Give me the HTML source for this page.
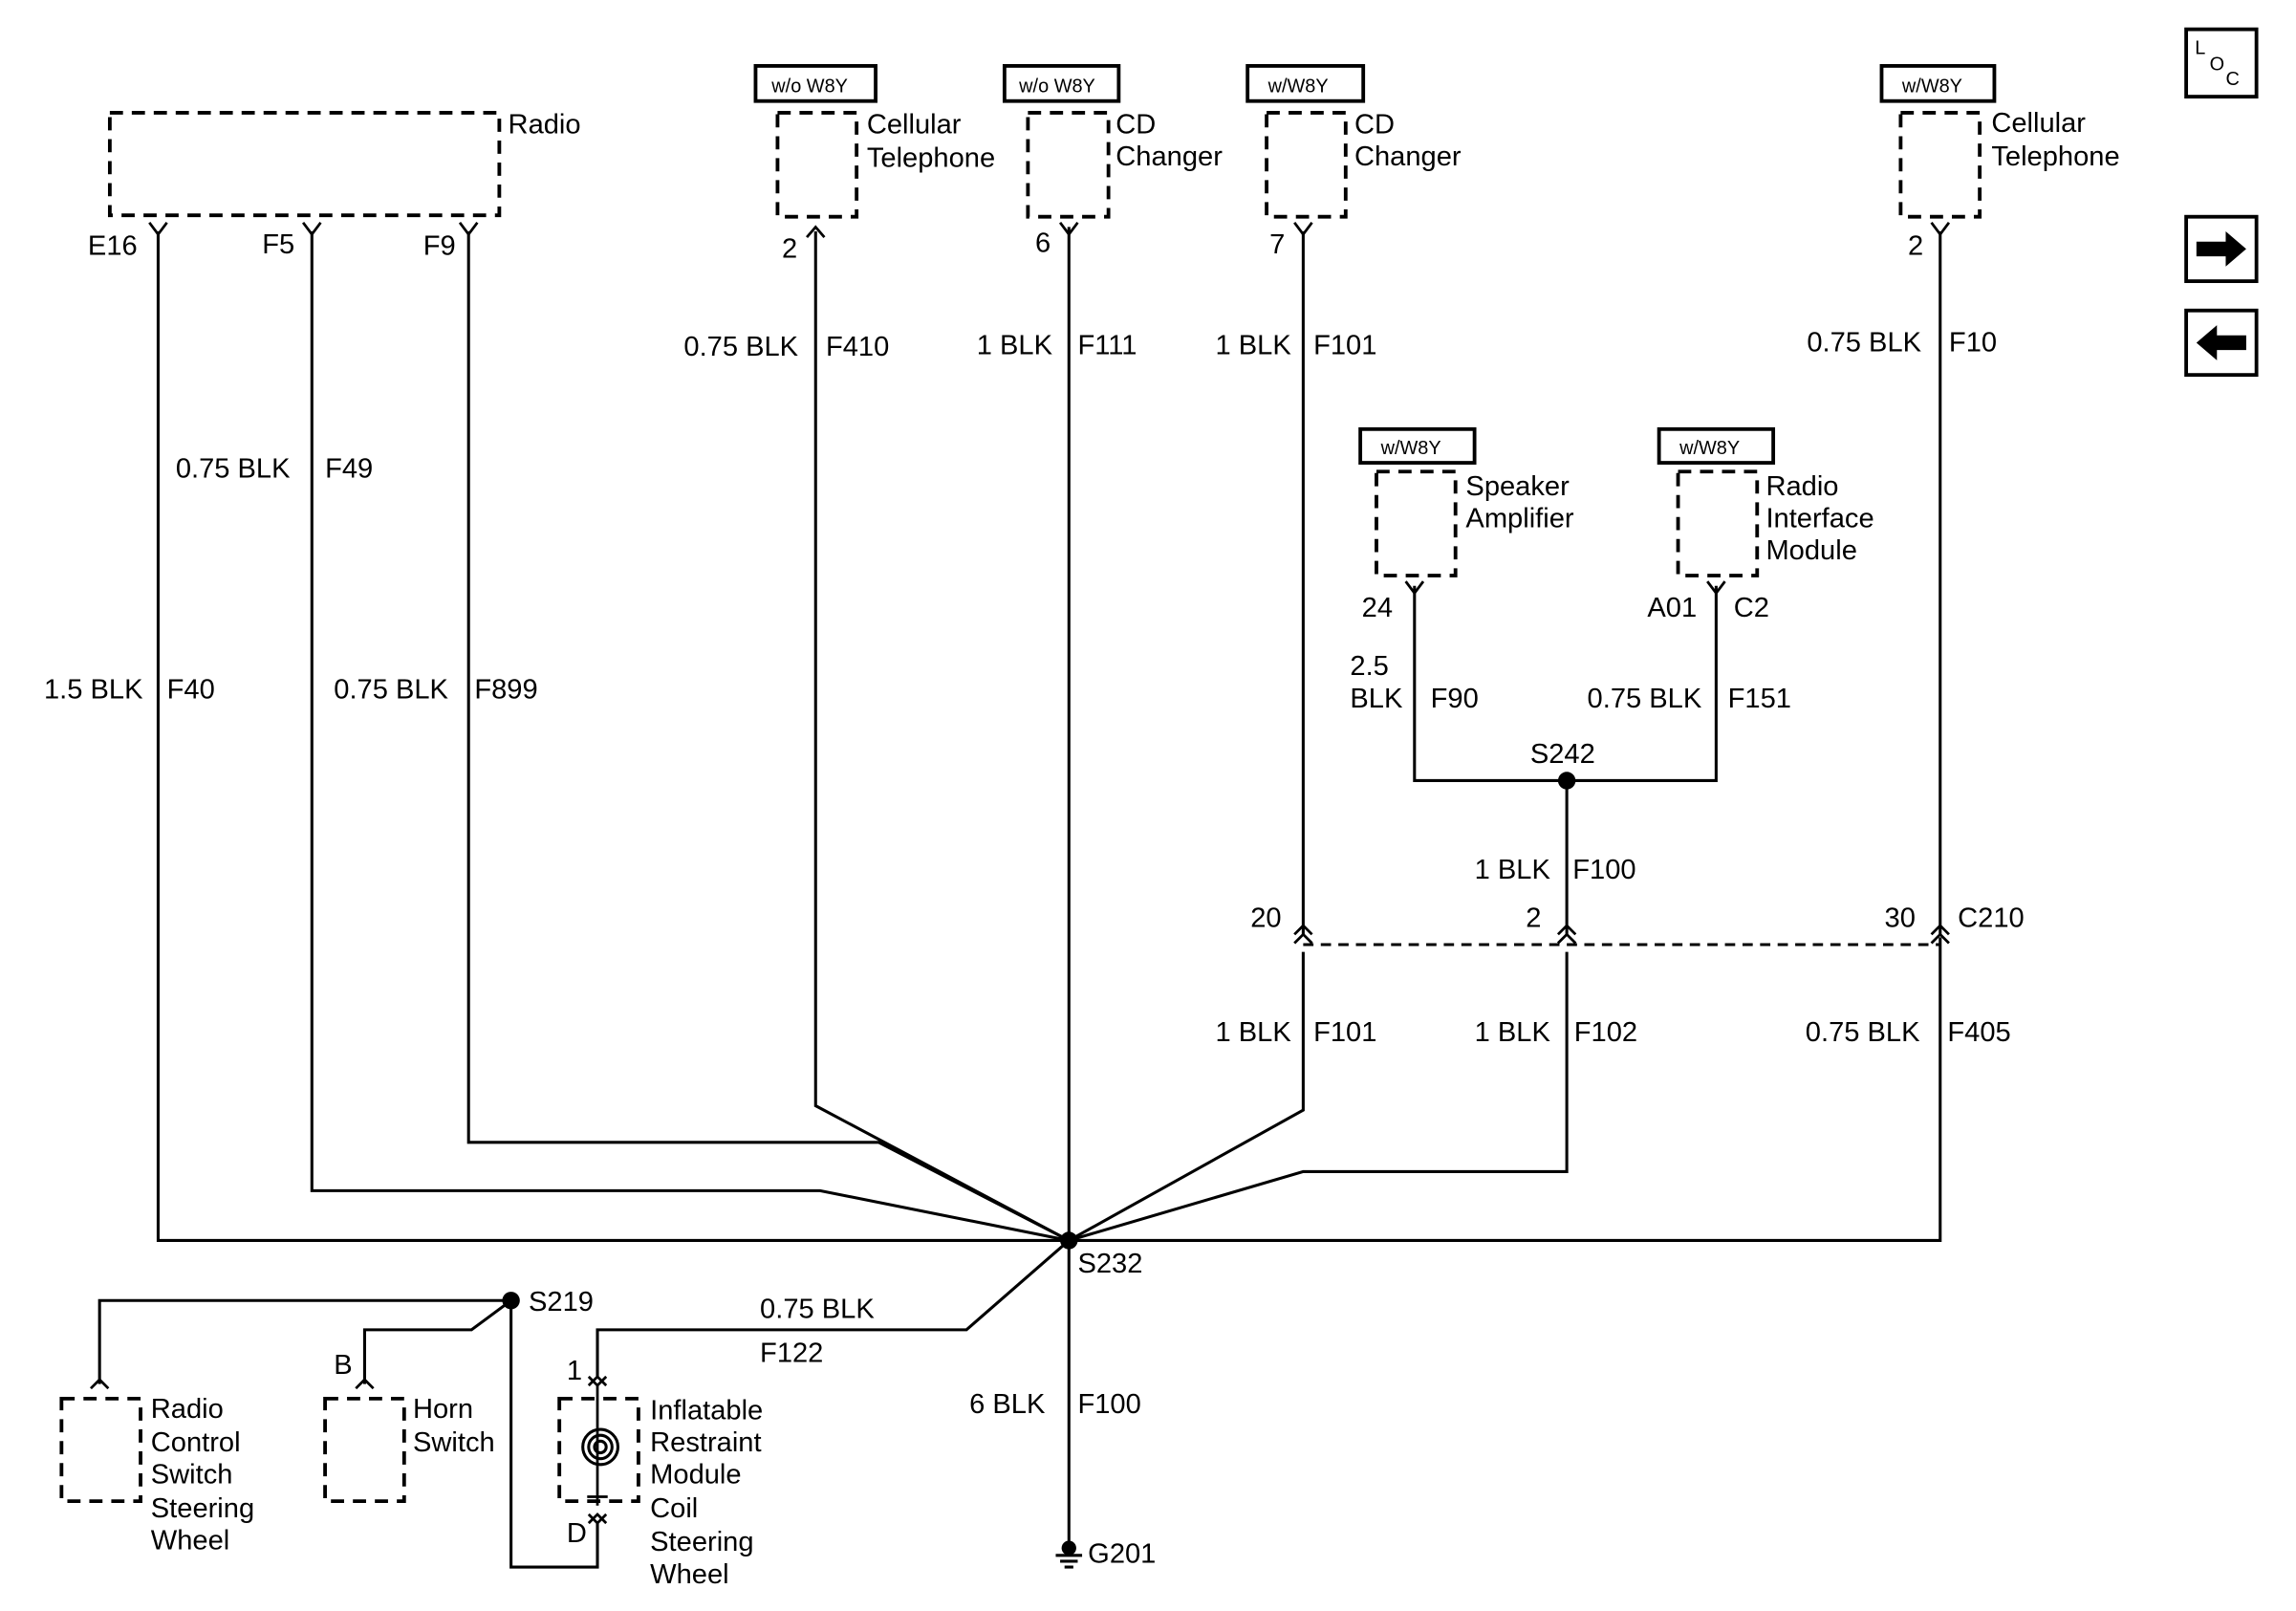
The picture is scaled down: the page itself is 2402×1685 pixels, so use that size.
<!DOCTYPE html>
<html><head><meta charset="utf-8"><style>
html,body{margin:0;padding:0;background:#fff;}
svg{display:block}
text{font-family:"Liberation Sans",Arial,sans-serif;font-size:19px;fill:#000}
.s{font-size:13px}
</style></head><body>
<svg width="2402" height="1685" viewBox="0 0 1568 1100" preserveAspectRatio="none" xmlns="http://www.w3.org/2000/svg">
<g fill="none" stroke="#000" stroke-width="2">
<g stroke-dasharray="9,6" stroke-width="2.5">
<rect x="75" y="77" width="266" height="70"/>
<rect x="531" y="77" width="54" height="71"/>
<rect x="702" y="77" width="55" height="71"/>
<rect x="865" y="77" width="54" height="71"/>
<rect x="1298" y="77" width="54" height="71"/>
<rect x="940" y="322" width="54" height="71"/>
<rect x="1146" y="322" width="54" height="71"/>
<rect x="42" y="955" width="54" height="70"/>
<rect x="222" y="955" width="54" height="70"/>
<rect x="382" y="955" width="54" height="70"/>
</g>
<g stroke-width="2.5">
<rect x="516" y="45" width="82" height="24"/>
<rect x="686" y="45" width="78" height="24"/>
<rect x="852" y="45" width="79" height="24"/>
<rect x="1285" y="45" width="77" height="24"/>
<rect x="929" y="293" width="78" height="23"/>
<rect x="1133" y="293" width="78" height="23"/>
<rect x="1493" y="20" width="48" height="46"/>
<rect x="1493" y="148" width="48" height="44"/>
<rect x="1493" y="212" width="48" height="44"/>
</g>
<polyline points="108,158 108,847 1325,847 1325,640"/>
<polyline points="213,158 213,813 560,813 730,847"/>
<polyline points="320,158 320,780 600,780 730,847"/>
<polyline points="557,158 557,755 730,847"/>
<polyline points="730,155 730,1055"/>
<polyline points="890,158 890,638"/>
<polyline points="890,650 890,758 730,847"/>
<polyline points="1070,650 1070,800 890,800 730,847"/>
<polyline points="1325,158 1325,638"/>
<polyline points="966,400 966,533 1172,533 1172,400"/>
<polyline points="1070,533 1070,638"/>
<polyline points="730,847 660,908 408,908 408,940"/>
<polyline points="349,888 68,888 68,945"/>
<polyline points="349,888 322,908 249,908 249,945"/>
<polyline points="349,888 349,1070 408,1070 408,1040"/>
<line x1="890" y1="645" x2="1325" y2="645" stroke-dasharray="7,5"/>
<g stroke-width="1.8">
<path d="M102,152 L108,160 L114,152"/>
<path d="M207,152 L213,160 L219,152"/>
<path d="M314,152 L320,160 L326,152"/>
<path d="M724,152 L730,160 L736,152"/>
<path d="M884,152 L890,160 L896,152"/>
<path d="M1319,152 L1325,160 L1331,152"/>
<path d="M960,397 L966,405 L972,397"/>
<path d="M1166,397 L1172,405 L1178,397"/>
<path d="M551,162 L557,155 L563,162"/>
<path d="M884,638 L890,632 L896,638 M884,644 L890,638 L896,644"/>
<path d="M1064,638 L1070,632 L1076,638 M1064,644 L1070,638 L1076,644"/>
<path d="M1319,638 L1325,632 L1331,638 M1319,644 L1325,638 L1331,644"/>
<path d="M62,948 L68,942 L74,948"/>
<path d="M243,948 L249,942 L255,948"/>
<path d="M402,940 L408,946 L414,940 M402,946 L408,940 L414,946"/>
<path d="M402,1040 L408,1034 L414,1040 M402,1034 L408,1040 L414,1034"/>
<line x1="408" y1="946" x2="408" y2="1028"/>
<line x1="401" y1="1022" x2="415" y2="1022"/>
</g>
<circle cx="410" cy="988" r="4"/><circle cx="410" cy="988" r="8"/><circle cx="410" cy="988" r="12"/>
<line x1="721" y1="1062" x2="739" y2="1062"/>
<line x1="724" y1="1066" x2="736" y2="1066"/>
<line x1="727" y1="1070" x2="733" y2="1070"/>
</g>
<g fill="#000">
<circle cx="730" cy="847" r="6"/>
<circle cx="1070" cy="533" r="6"/>
<circle cx="349" cy="888" r="6"/>
<circle cx="730" cy="1057" r="5"/>
<path d="M1500,165 L1520,165 L1520,158 L1534,170 L1520,182 L1520,175 L1500,175Z"/>
<path d="M1534,229 L1514,229 L1514,222 L1500,234 L1514,246 L1514,239 L1534,239Z"/>
</g>
<text class="s" x="527" y="63">w/o W8Y</text>
<text class="s" x="696" y="63">w/o W8Y</text>
<text class="s" x="866" y="63">w/W8Y</text>
<text class="s" x="1299" y="63">w/W8Y</text>
<text class="s" x="943" y="310">w/W8Y</text>
<text class="s" x="1147" y="310">w/W8Y</text>
<text class="s" x="1499" y="37">L</text><text class="s" x="1509" y="48">O</text><text class="s" x="1520" y="58">C</text>
<text x="347" y="91">Radio</text>
<text x="592" y="91">Cellular</text><text x="592" y="114">Telephone</text>
<text x="762" y="91">CD</text><text x="762" y="113">Changer</text>
<text x="925" y="91">CD</text><text x="925" y="113">Changer</text>
<text x="1360" y="90">Cellular</text><text x="1360" y="113">Telephone</text>
<text x="1001" y="338">Speaker</text><text x="1001" y="360">Amplifier</text>
<text x="1206" y="338">Radio</text><text x="1206" y="360">Interface</text><text x="1206" y="382">Module</text>
<text x="60" y="174">E16</text><text x="179" y="173">F5</text><text x="289" y="174">F9</text>
<text x="534" y="176">2</text><text x="707" y="172">6</text><text x="867" y="173">7</text><text x="1303" y="174">2</text>
<text x="467" y="243">0.75 BLK</text><text x="564" y="243">F410</text>
<text x="667" y="242">1 BLK</text><text x="736" y="242">F111</text>
<text x="830" y="242">1 BLK</text><text x="897" y="242">F101</text>
<text x="1234" y="240">0.75 BLK</text><text x="1331" y="240">F10</text>
<text x="120" y="326">0.75 BLK</text><text x="222" y="326">F49</text>
<text x="30" y="477">1.5 BLK</text><text x="114" y="477">F40</text>
<text x="228" y="477">0.75 BLK</text><text x="324" y="477">F899</text>
<text x="930" y="421">24</text><text x="1125" y="421">A01</text><text x="1184" y="421">C2</text>
<text x="922" y="461">2.5</text><text x="922" y="483">BLK</text><text x="977" y="483">F90</text>
<text x="1084" y="483">0.75 BLK</text><text x="1180" y="483">F151</text>
<text x="1045" y="521">S242</text>
<text x="1007" y="600">1 BLK</text><text x="1074" y="600">F100</text>
<text x="854" y="633">20</text><text x="1042" y="633">2</text><text x="1287" y="633">30</text><text x="1337" y="633">C210</text>
<text x="830" y="711">1 BLK</text><text x="897" y="711">F101</text>
<text x="1007" y="711">1 BLK</text><text x="1075" y="711">F102</text>
<text x="1233" y="711">0.75 BLK</text><text x="1330" y="711">F405</text>
<text x="736" y="869">S232</text>
<text x="361" y="895">S219</text>
<text x="519" y="900">0.75 BLK</text><text x="519" y="930">F122</text>
<text x="662" y="965">6 BLK</text><text x="736" y="965">F100</text>
<text x="743" y="1067">G201</text>
<text x="228" y="938">B</text><text x="387" y="942">1</text><text x="387" y="1053">D</text>
<text x="103" y="968">Radio</text><text x="103" y="991">Control</text><text x="103" y="1013">Switch</text><text x="103" y="1036">Steering</text><text x="103" y="1058">Wheel</text>
<text x="282" y="968">Horn</text><text x="282" y="991">Switch</text>
<text x="444" y="969">Inflatable</text><text x="444" y="991">Restraint</text><text x="444" y="1013">Module</text><text x="444" y="1036">Coil</text><text x="444" y="1059">Steering</text><text x="444" y="1081">Wheel</text>
</svg>
</body></html>
